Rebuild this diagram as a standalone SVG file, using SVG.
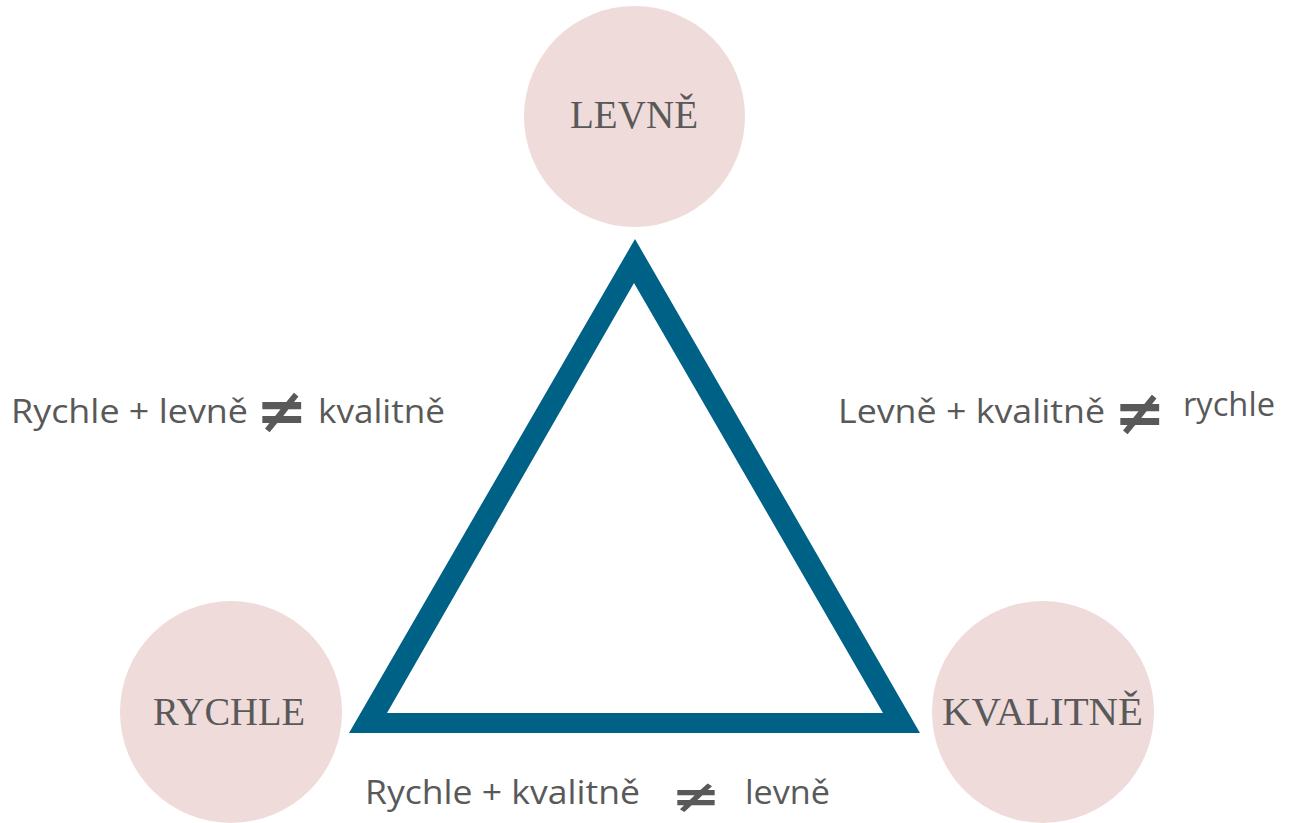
<svg xmlns="http://www.w3.org/2000/svg" width="1298" height="823" viewBox="0 0 1298 823">
<style>
.circ{fill:#f0dbdb}
.lbl{font-family:"Liberation Serif","DejaVu Serif",serif;font-size:40px;fill:#595959}
.txt{font-family:"Open Sans","Noto Sans",sans-serif;font-size:32px;fill:#595959}
.ne{font-family:"DejaVu Sans","Liberation Sans",sans-serif;font-size:62px;font-weight:bold;fill:#595959;text-anchor:middle}
.tri{fill:#006187;fill-rule:evenodd}
</style>
<rect width="1298" height="823" fill="#ffffff"/>
<g id="connectors">
<path class="tri" d="M635,239 L920,733 L349,733 Z M634,283 L387,713 L883,713 Z"/>
</g>
<g id="node-levne">
<circle class="circ" cx="634.5" cy="116.5" r="110.5"/>
<text class="lbl" x="570" y="128" textLength="128" lengthAdjust="spacingAndGlyphs">LEVNĚ</text>
</g>
<g id="node-rychle">
<circle class="circ" cx="231" cy="712" r="111"/>
<text class="lbl" x="153" y="725" textLength="152" lengthAdjust="spacingAndGlyphs">RYCHLE</text>
</g>
<g id="node-kvalitne">
<circle class="circ" cx="1043" cy="712" r="111"/>
<text class="lbl" x="942" y="725" textLength="201" lengthAdjust="spacingAndGlyphs">KVALITNĚ</text>
</g>
<g id="label-left">
<text class="txt" x="11" y="423" textLength="237" lengthAdjust="spacingAndGlyphs">Rychle + levně</text>
<text class="ne" x="282" y="432">≠</text>
<text class="txt" x="318" y="423" textLength="127" lengthAdjust="spacingAndGlyphs">kvalitně</text>
</g>
<g id="label-right">
<text class="txt" x="838" y="423" textLength="267" lengthAdjust="spacingAndGlyphs">Levně + kvalitně</text>
<text class="ne" x="1140" y="434">≠</text>
<text class="txt" x="1183" y="416" textLength="92" lengthAdjust="spacingAndGlyphs">rychle</text>
</g>
<g id="label-bottom">
<text class="txt" x="365" y="804" textLength="275" lengthAdjust="spacingAndGlyphs">Rychle + kvalitně</text>
<text class="ne" x="696" y="812" style="font-size:45px" textLength="50" lengthAdjust="spacingAndGlyphs">≠</text>
<text class="txt" x="745" y="804" textLength="85" lengthAdjust="spacingAndGlyphs">levně</text>
</g>
</svg>
